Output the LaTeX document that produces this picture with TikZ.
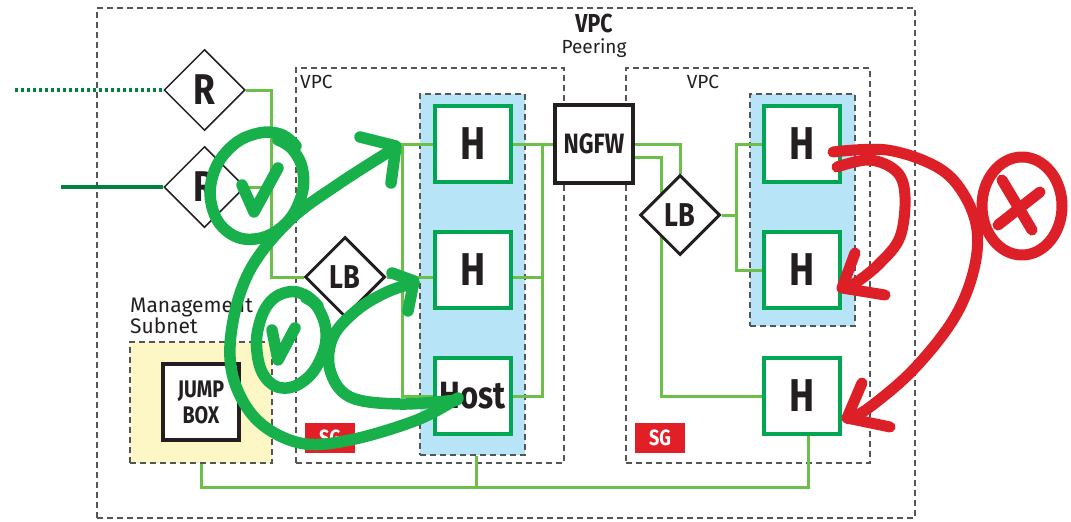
\documentclass[tikz,border=0pt]{standalone}
\usepackage{fontspec}
\setmainfont{Fira Sans}
\newfontfamily\boxfont[FakeStretch=0.82]{Fira Sans}
\usetikzlibrary{shapes.geometric}
\definecolor{hostgreen}{HTML}{00A651}
\definecolor{linkgreen}{HTML}{6CC04A}
\definecolor{wangreen}{HTML}{00843D}
\definecolor{okgreen}{HTML}{17B04B}
\definecolor{nored}{HTML}{DD2027}
\definecolor{sgred}{HTML}{E21F26}
\definecolor{subnetblue}{HTML}{B8E4F8}
\definecolor{mgmtyellow}{HTML}{FCF7C5}
\definecolor{ink}{HTML}{231F20}
\definecolor{edge}{HTML}{555555}
\pgfdeclarelayer{zone}
\pgfdeclarelayer{wire}
\pgfsetlayers{zone,wire,main}

\begin{document}
\begin{tikzpicture}[x=1pt,y=-1pt,
	zone/.style={draw=edge,line width=1.1pt,dash pattern=on 6pt off 4pt,inner sep=0pt},
	host/.style={draw=hostgreen,line width=4pt,fill=white,minimum size=76pt,inner sep=0pt,text=ink,font=\boxfont\bfseries\fontsize{46}{46}\selectfont},
	router/.style={diamond,aspect=1,draw=ink,line width=1.5pt,fill=white,minimum size=81pt,inner sep=0pt,text=ink,font=\boxfont\bfseries\fontsize{43}{43}\selectfont},
	balancer/.style={diamond,aspect=1,draw=ink,line width=3pt,fill=white,minimum size=80pt,inner sep=0pt,text=ink,font=\boxfont\bfseries\fontsize{33}{33}\selectfont},
	blackbox/.style={draw=ink,line width=4pt,fill=white,inner sep=0pt,text=ink,align=center},
	sgtag/.style={fill=sgred,minimum width=50pt,minimum height=30pt,inner sep=0pt,text=white,font=\boxfont\bfseries\fontsize{22}{22}\selectfont},
	tag/.style={inner sep=0pt,text=ink,font=\fontsize{19}{19}\selectfont},
	link/.style={linkgreen,line width=3pt},
	wan/.style={wangreen,line width=4pt},
	okmark/.style={okgreen,line width=11.5pt,line cap=round,line join=round},
	nomark/.style={nored,line width=11pt,line cap=round,line join=round}]
	\useasboundingbox (0,0) rectangle (1071,522);
	% zones
	\begin{pgfonlayer}{zone}
		\node[zone,minimum width=818pt,minimum height=510pt] (peer) at (506,263) {};
		\node[zone,minimum width=268pt,minimum height=395pt] (vpcA) at (430,265.5) {};
		\node[zone,minimum width=244pt,minimum height=395pt] (vpcB) at (748,265.5) {};
		\node[zone,fill=subnetblue,minimum width=105pt,minimum height=361pt] (grpA) at (472.5,274.5) {};
		\node[zone,fill=subnetblue,minimum width=105pt,minimum height=232pt] (grpB) at (802.5,210) {};
		\node[zone,fill=mgmtyellow,minimum width=142pt,minimum height=121pt] (mgmt) at (201,402.5) {};
	\end{pgfonlayer}
	\node[tag,anchor=base,font=\boxfont\bfseries\fontsize{26}{26}\selectfont] (peerTitle) at (594,32) {VPC};
	\node[tag,anchor=base] (peerSub) at (594,53) {Peering};
	\node[tag,anchor=base west] (vpcAName) at (300,88) {VPC};
	\node[tag,anchor=base] (vpcBName) at (703,88) {VPC};
	\node[tag,anchor=south west,align=left,font=\fontsize{21}{21}\selectfont] (mgmtName) at (130,334) {Management\\Subnet};
	% nodes
	\node[router] (r1) at (204.5,90) {R};
	\node[router] (r2) at (204.5,187) {R};
	\node[balancer] (lbA) at (345,277) {LB};
	\node[host] (hA1) at (473,144) {H};
	\node[host] (hA2) at (473,270) {H};
	\node[host,font=\boxfont\bfseries\fontsize{38}{38}\selectfont] (hA3) at (473,396) {Host};
	\node[blackbox,minimum size=78pt,font=\boxfont\bfseries\fontsize{28}{28}\selectfont] (fw) at (594,144) {NGFW};
	\node[balancer] (lbB) at (680,215) {LB};
	\node[host] (hB1) at (802,144) {H};
	\node[host] (hB2) at (802,270) {H};
	\node[host] (hB3) at (802,396) {H};
	\node[blackbox,minimum size=76pt,font=\boxfont\bfseries\fontsize{24}{26}\selectfont] (jump) at (201,402) {JUMP\\BOX};
	\node[sgtag] (sgA) at (330,438) {SG};
	\node[sgtag] (sgB) at (660,438) {SG};
	% wires
	\coordinate (wanA) at (15,0);
	\coordinate (wanB) at (61,0);
	\coordinate (rbus) at (271,0);
	\coordinate (busA) at (402,0);
	\coordinate (busB) at (542,0);
	\coordinate (fwbus) at (661,0);
	\coordinate (busC) at (736,0);
	\coordinate (mbus) at (0,487);
	\coordinate (fwlow) at ([yshift=-13pt]fw.east);
	\coordinate (dropA) at ([xshift=4pt]grpA.south);
	\coordinate (dropB) at ([xshift=6pt]hB3.south);
	\begin{pgfonlayer}{wire}
		\draw[wan,dash pattern=on 3pt off 3pt] (wanA |- r1.west) -- (r1.west);
		\draw[wan] (wanB |- r2.west) -- (r2.west);
		\draw[link] (r1.east) -| (lbA.west -| rbus) -- (lbA.west);
		\draw[link] (r2.east) -- (r2.east -| rbus);
		\draw[link] (lbA.east) -- (lbA.east -| hA2.west);
		\draw[link] (hA1.west) -- (hA1.west -| busA) -- (hA3.west -| busA) -- (hA3.west);
		\draw[link] (hA1.east) -- (fw.west);
		\draw[link] (hA1.east -| busB) -- (hA3.east -| busB) -- (hA3.east);
		\draw[link] (lbA.east -| hA2.east) -- (lbA.east -| busB);
		\draw[link] (fw.east) -| (lbB.north);
		\draw[link] (fwlow) -| (fwbus |- hB3.west) -- (hB3.west);
		\draw[link] (lbB.east) -- (lbB.east -| busC);
		\draw[link] (hB1.west) -- (hB1.west -| busC) -- (hB2.west -| busC) -- (hB2.west);
		\draw[link] (mgmt.south) -- (mgmt.south |- mbus) -- (dropB |- mbus) -- (dropB);
		\draw[link] (dropA) -- (dropA |- mbus);
	\end{pgfonlayer}
	% allowed paths
	\draw[okmark] plot[smooth,tension=0.7] coordinates {(296,146) (280,134) (255,134) (230,148) (213,175) (212,207) (228,232) (255,239) (283,226) (300,200) (303,172) (293,150) (278,140)};
	\draw[okmark] (242,185) -- (254,212) -- (278,168);
	\draw[okmark] plot[smooth,tension=0.7] coordinates {(318,306) (305,295) (288,292) (270,302) (259,325) (257,352) (265,377) (283,388) (305,380) (321,358) (326,332) (318,308) (306,298)};
	\draw[okmark] (272,330) -- (278,360) -- (295,328);
	\draw[okmark] plot[smooth,tension=0.6] coordinates {(458,398) (417,420) (350,440) (300,443) (257,420) (233,377) (232,327) (250,270) (290,220) (340,183) (395,148)};
	\draw[okmark] (360,137) -- (396,146) -- (391,183);
	\draw[okmark] plot[smooth,tension=0.6] coordinates {(457,400) (400,404) (350,397) (330,370) (333,337) (357,310) (387,292) (414,283)};
	\draw[okmark] (392,273) -- (414,281) -- (408,311);
	% blocked paths
	\draw[nomark] plot[smooth,tension=0.6] coordinates {(833,152) (887,150) (937,167) (963,193) (977,230) (973,273) (953,320) (913,370) (870,407) (849,419)};
	\draw[nomark] (862,383) -- (847,418) -- (890,427);
	\draw[nomark] plot[smooth,tension=0.6] coordinates {(837,167) (870,160) (897,172) (905,197) (900,237) (880,263) (857,282) (845,288)};
	\draw[nomark] (855,253) -- (842,288) -- (885,295);
	\draw[nomark] (1022,206) ellipse[x radius=40,y radius=49];
	\draw[nomark] (1002,180) -- (1032,230);
	\draw[nomark] (1040,192) -- (998,225);
\end{tikzpicture}
\end{document}
